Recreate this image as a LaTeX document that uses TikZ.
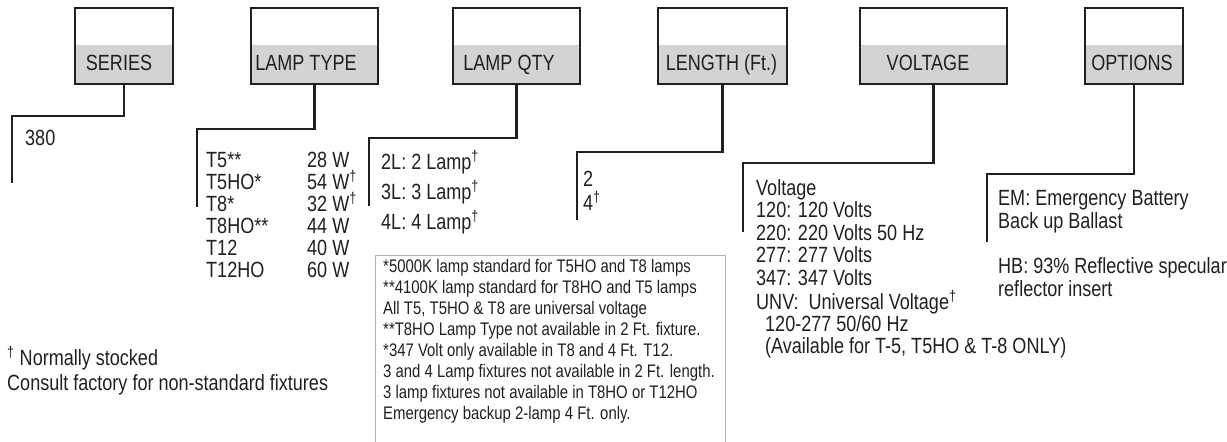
\documentclass[tikz,border=0pt]{standalone}
\usepackage{fontspec}
\setmainfont{Liberation Sans}[FakeStretch=0.82]
\newcommand\mydag{\textsuperscript{†}}
\definecolor{linedark}{HTML}{231F20}
\definecolor{boxgray}{HTML}{D1D3D4}
\definecolor{notegray}{HTML}{B3B3B3}
\begin{document}
\begin{tikzpicture}[x=1pt,y=-1pt,
  hbox/.style={draw=linedark, line width=2.5pt, minimum width=#1, minimum height=76pt, inner sep=0pt,
    path picture={\fill[boxgray] ([yshift=39pt]path picture bounding box.south west) rectangle (path picture bounding box.south east);}},
  conn/.style={draw=linedark, line width=2.5pt, line join=miter},
  txt/.style={anchor=base west, inner sep=0pt, text=linedark, font=\fontsize{22}{24}\selectfont},
  lbl/.style={anchor=base, inner sep=0pt, text=linedark, font=\fontsize{22}{24}\selectfont},
  ntxt/.style={anchor=base west, inner sep=0pt, text=linedark, font=\fontsize{18.2}{20}\selectfont},
  notebox/.style={draw=notegray, line width=0.8pt, anchor=north west, minimum width=350pt, minimum height=200pt, inner sep=0pt}
]
\useasboundingbox (0,0) rectangle (1227,442);

% header boxes
\node[hbox=98pt]  (series)   at (124,46)   {};
\node[hbox=127pt] (lamptype) at (314.5,46) {};
\node[hbox=127pt] (lampqty)  at (516.5,46) {};
\node[hbox=129pt] (length)   at (722.5,46) {};
\node[hbox=147pt] (voltage)  at (933.5,46) {};
\node[hbox=98pt]  (options)  at (1134,46)  {};

\node[lbl] (seriesL)   at (119,70)   {SERIES};
\node[lbl] (lamptypeL) at (306,70)   {LAMP TYPE};
\node[lbl] (lampqtyL)  at (509,70)   {LAMP QTY};
\node[lbl] (lengthL)   at (721.5,70) {LENGTH (Ft.)};
\node[lbl] (voltageL)  at (928,70)   {VOLTAGE};
\node[lbl] (optionsL)  at (1132,70)  {OPTIONS};

% connectors
\coordinate (b1) at (12,116);  \coordinate (b1e) at (12,183);
\coordinate (b2) at (197,129); \coordinate (b2e) at (197,207);
\coordinate (b3) at (369,138); \coordinate (b3e) at (369,206);
\coordinate (b4) at (577,152); \coordinate (b4e) at (577,220);
\coordinate (b5) at (743,163); \coordinate (b5e) at (743,232);
\coordinate (b6) at (987,174); \coordinate (b6e) at (987,242);
\draw[conn] (series.south)   |- (b1) -- (b1e);
\draw[conn] (lamptype.south) |- (b2) -- (b2e);
\draw[conn] (lampqty.south)  |- (b3) -- (b3e);
\draw[conn] (length.south)   |- (b4) -- (b4e);
\draw[conn] (voltage.south)  |- (b5) -- (b5e);
\draw[conn] (options.south)  |- (b6) -- (b6e);

% series
\node[txt] (s380) at (25,145) {380};

% lamp type
\foreach \t [count=\i] in {T5**, T5HO*, T8*, T8HO**, T12, T12HO}
  \node[txt] (ltn\i) at (206,{167+22*(\i-1)}) {\t};
\foreach \t [count=\i] in {28 W, 54 W\mydag, 32 W\mydag, 44 W, 40 W, 60 W}
  \node[txt] (ltw\i) at (307,{167+22*(\i-1)}) {\t};

% lamp qty
\node[txt] (lq1) at (381,169) {2L: 2 Lamp\mydag};
\node[txt] (lq2) at (381,199) {3L: 3 Lamp\mydag};
\node[txt] (lq3) at (381,229) {4L: 4 Lamp\mydag};

% length
\node[txt] (ln1) at (583,186) {2};
\node[txt] (ln2) at (583,210) {4\mydag};

% voltage
\node[txt] (v1) at (756,195)   {Voltage};
\node[txt] (v2) at (756,217.5) {120: 120 Volts};
\node[txt] (v3) at (756,240)   {220: 220 Volts 50 Hz};
\node[txt] (v4) at (756,262.5) {277: 277 Volts};
\node[txt] (v5) at (756,285)   {347: 347 Volts};
\node[txt] (v6) at (756,309)   {UNV:\ \ Universal Voltage\mydag};
\node[txt] (v7) at (765,331)   {120-277 50/60 Hz};
\node[txt] (v8) at (765,353)   {(Available for T-5, T5HO \& T-8 ONLY)};

% options
\node[txt] (o1) at (998,205) {EM: Emergency Battery};
\node[txt] (o2) at (998,228) {Back up Ballast};
\node[txt] (o3) at (998,273) {HB: 93\% Reflective specular};
\node[txt] (o4) at (998,296) {reflector insert};

% footer
\node[txt] (f1) at (7,365) {\mydag\ Normally stocked};
\node[txt] (f2) at (7,390) {Consult factory for non-standard fixtures};

% notes
\node[notebox] (notes) at (375,255) {};
\foreach \t [count=\i] in {
  *5000K lamp standard for T5HO and T8 lamps,
  **4100K lamp standard for T8HO and T5 lamps,
  {All T5, T5HO \& T8 are universal voltage},
  **T8HO Lamp Type not available in 2 Ft. fixture.,
  *347 Volt only available in T8 and 4 Ft. T12.,
  3 and 4 Lamp fixtures not available in 2 Ft. length.,
  3 lamp fixtures not available in T8HO or T12HO,
  Emergency backup 2-lamp 4 Ft. only.}
  \node[ntxt] (n\i) at (383,{272+21.1*(\i-1)}) {\t};
\end{tikzpicture}
\end{document}
